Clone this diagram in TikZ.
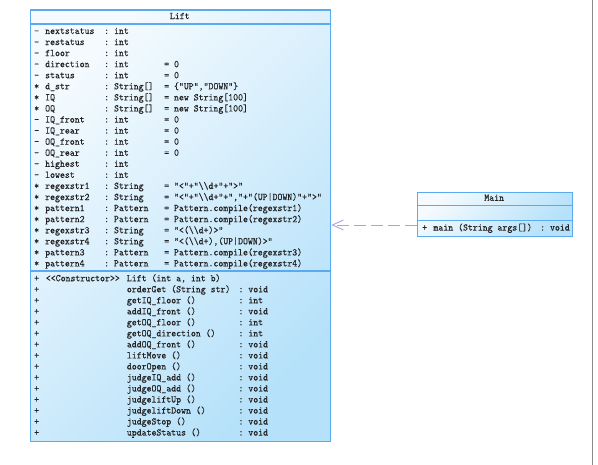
\documentclass[tikz,border=0pt]{standalone}
\usepackage{fontspec}
\setmonofont[FakeStretch=0.92,FakeBold=0.2]{Latin Modern Mono}
\usetikzlibrary{arrows.meta}
\definecolor{boxline}{HTML}{5AAAF0}
\definecolor{boxlight}{HTML}{F4FAFE}
\definecolor{boxdark}{HTML}{B5E1FA}
\definecolor{deparrow}{HTML}{A3A3EE}
\definecolor{txt}{HTML}{222222}
\definecolor{pageline}{HTML}{8C8C8C}
\newcommand\bsl{\textbackslash}
\tikzset{
  umlbox/.style={draw=boxline, line width=1.1pt, top color=boxlight, bottom color=boxdark, shading angle=45, rectangle, inner sep=0pt, anchor=north west},
  sepline/.style={draw=boxline, line width=1.1pt},
  cell/.style={anchor=west, inner sep=0pt, text height=6.4pt, text depth=1.8pt, font=\ttfamily\fontsize{10.2}{11}\selectfont, text=txt},
  ttl/.style={cell, anchor=center},
  dep/.style={draw=deparrow, line width=0.9pt, dash pattern=on 12pt off 5pt, -{Straight Barb[length=11pt,width=10pt]}},
}
\newcommand\attrrow[5]{%
  \node[cell] (av#1) at (34,{31.7+11.07*#1}) {#2};
  \node[cell] (an#1) at (45,{31.7+11.07*#1}) {#3};
  \node[cell] (at#1) at (104,{31.7+11.07*#1}) {: #4};
  \if\relax\detokenize{#5}\relax\else
  \node[cell] (ad#1) at (164,{31.7+11.07*#1}) {#5};\fi}
\newcommand\methrow[3]{%
  \node[cell] (mv#1) at (34,{279+11.02*#1}) {+};
  \node[cell] (mn#1) at (126.7,{279+11.02*#1}) {#2};
  \node[cell] (mr#1) at (238.3,{279+11.02*#1}) {: #3};}
\begin{document}
\begin{tikzpicture}[x=1pt,y=-1pt]
\useasboundingbox (0,0) rectangle (598,465);
\draw[pageline, line width=1.3pt] (592.3,0) -- (592.3,465);
% Lift class
\node[umlbox, minimum width=300.8pt, minimum height=431.5pt] (lift) at (29.5,9.5) {};
\draw[sepline] (lift.west |- 0,24) -- (lift.east |- 0,24);
\draw[sepline] (lift.west |- 0,271) -- (lift.east |- 0,271);
\node[ttl] (lifttitle) at (179.8,16.8) {Lift};
\attrrow{0}{-}{nextstatus}{int}{}
\attrrow{1}{-}{restatus}{int}{}
\attrrow{2}{-}{floor}{int}{}
\attrrow{3}{-}{direction}{int}{= 0}
\attrrow{4}{-}{status}{int}{= 0}
\attrrow{5}{*}{d\_str}{String[]}{= \{"UP","DOWN"\}}
\attrrow{6}{*}{IQ}{String[]}{= new String[100]}
\attrrow{7}{*}{OQ}{String[]}{= new String[100]}
\attrrow{8}{-}{IQ\_front}{int}{= 0}
\attrrow{9}{-}{IQ\_rear}{int}{= 0}
\attrrow{10}{-}{OQ\_front}{int}{= 0}
\attrrow{11}{-}{OQ\_rear}{int}{= 0}
\attrrow{12}{-}{highest}{int}{}
\attrrow{13}{-}{lowest}{int}{}
\attrrow{14}{*}{regexstr1}{String}{= "<"+"\bsl\bsl d+"+">"}
\attrrow{15}{*}{regexstr2}{String}{= "<"+"\bsl\bsl d+"+","+"(UP|DOWN)"+">"}
\attrrow{16}{*}{pattern1}{Pattern}{= Pattern.compile(regexstr1)}
\attrrow{17}{*}{pattern2}{Pattern}{= Pattern.compile(regexstr2)}
\attrrow{18}{*}{regexstr3}{String}{= "<(\bsl\bsl d+)>"}
\attrrow{19}{*}{regexstr4}{String}{= "<(\bsl\bsl d+),(UP|DOWN)>"}
\attrrow{20}{*}{pattern3}{Pattern}{= Pattern.compile(regexstr3)}
\attrrow{21}{*}{pattern4}{Pattern}{= Pattern.compile(regexstr4)}
\node[cell] (cv) at (34,279) {+};
\node[cell] (cs) at (45.7,279) {<<Constructor>>};
\node[cell] (cn) at (126.7,279) {Lift (int a, int b)};
\methrow{1}{orderGet (String str)}{void}
\methrow{2}{getIQ\_floor ()}{int}
\methrow{3}{addIQ\_front ()}{void}
\methrow{4}{getOQ\_floor ()}{int}
\methrow{5}{getOQ\_direction ()}{int}
\methrow{6}{addOQ\_front ()}{void}
\methrow{7}{liftMove ()}{void}
\methrow{8}{doorOpen ()}{void}
\methrow{9}{judgeIQ\_add ()}{void}
\methrow{10}{judgeOQ\_add ()}{void}
\methrow{11}{judgeliftUp ()}{void}
\methrow{12}{judgeliftDown ()}{void}
\methrow{13}{judgeStop ()}{void}
\methrow{14}{updateStatus ()}{void}
% Main class
\node[umlbox, minimum width=155pt, minimum height=44pt] (main) at (416.7,191.7) {};
\draw[sepline] (main.west |- 0,205.7) -- (main.east |- 0,205.7);
\draw[sepline] (main.west |- 0,220.7) -- (main.east |- 0,220.7);
\node[ttl] (maintitle) at (494.2,198.5) {Main};
\node[cell] (mainv) at (422,228.3) {+};
\node[cell] (mainn) at (433.3,228.3) {main (String args[])};
\node[cell] (mainr) at (540,228.3) {: void};
% dependency
\coordinate (depy) at (0,225);
\draw[dep] (main.west |- depy) -- (lift.east |- depy);
\end{tikzpicture}
\end{document}
